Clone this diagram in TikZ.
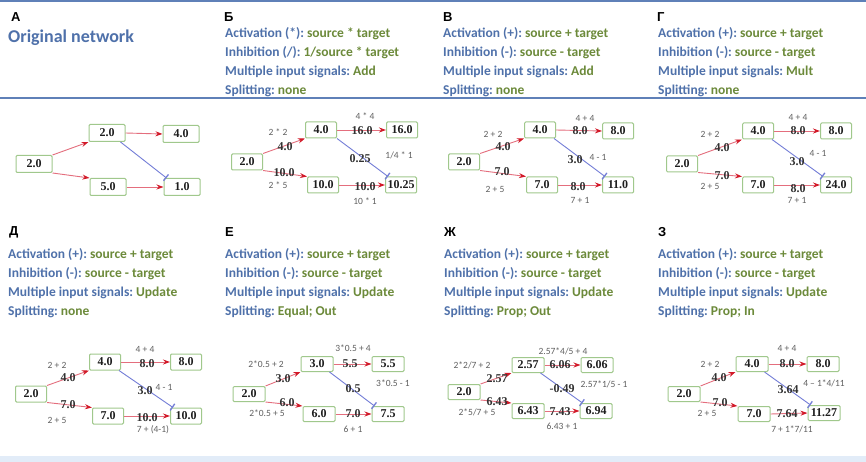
\documentclass[tikz,border=0pt]{standalone}
\usepackage{fontspec}
\setmainfont{Liberation Serif}
\newfontfamily\hfont{Carlito}
\newfontfamily\lfont{Liberation Sans}
\usetikzlibrary{arrows.meta}
\frenchspacing
\definecolor{hblue}{RGB}{79,113,170}
\definecolor{hgreen}{RGB}{108,138,58}
\definecolor{sepblue}{RGB}{95,128,184}
\definecolor{bandblue}{RGB}{226,236,248}
\definecolor{boxgreen}{RGB}{160,200,140}
\definecolor{nodetext}{RGB}{30,30,30}
\definecolor{valtext}{RGB}{50,50,50}
\definecolor{frmgray}{RGB}{95,95,95}
\definecolor{actred}{RGB}{228,110,125}
\definecolor{arrred}{RGB}{210,25,40}
\definecolor{inhblue}{RGB}{115,125,215}
\newcommand\hblock[9]{%
  \node[hd] (#1h1) at (#2,#3) {\color{hblue}Activation (#4):\ \color{hgreen}#5};
  \node[hd] (#1h2) at (#2,#3+19) {\color{hblue}Inhibition (#6):\ \color{hgreen}#7};
  \node[hd] (#1h3) at (#2,#3+38) {\color{hblue}Multiple input signals:\ \color{hgreen}#8};
  \node[hd] (#1h4) at (#2,#3+57) {\color{hblue}Splitting:\ \color{hgreen}#9};
}
\begin{document}
\begin{tikzpicture}[x=1pt,y=-1pt,
  box/.style={draw=boxgreen,line width=1pt,fill=white,rounded corners=1.2pt,minimum width=31pt,minimum height=16pt,inner sep=1pt,font=\fontsize{12}{12}\selectfont\bfseries,text=nodetext},
  boxa/.style={box,minimum width=36pt,minimum height=17pt},
  boxb/.style={box,minimum width=32pt,minimum height=15pt},
  act/.style={draw=actred,line width=0.9pt,-{Stealth[length=7pt,width=5pt,color=arrred]}},
  inh/.style={draw=inhblue,line width=0.9pt,-{Bar[width=8pt,line width=1.3pt]}},
  val/.style={font=\fontsize{12}{12}\selectfont\bfseries,text=valtext,inner sep=0pt},
  frm/.style={font=\hfont\fontsize{9.5}{10}\selectfont,text=frmgray,inner sep=0pt},
  hd/.style={anchor=west,inner sep=0pt,font=\hfont\bfseries\fontsize{13.5}{15}\selectfont},
  lettr/.style={anchor=west,inner sep=0pt,font=\lfont\bfseries\fontsize{13}{13}\selectfont},
]
\useasboundingbox (0,0) rectangle (866,462);
\fill[white] (0,0) rectangle (866,462);
\fill[bandblue] (0,456) rectangle (866,462);
\draw[sepblue,line width=2pt] (0,1) -- (866,1);
\draw[sepblue,line width=2pt] (0,98) -- (866,98);

% ---------- headers ----------
\node[lettr] (LA) at (11,17) {А};
\node[anchor=west,inner sep=0pt,font=\hfont\bfseries\fontsize{18}{18}\selectfont,text=hblue] (title) at (8,38) {Original network};
\node[lettr] (LB) at (224,17) {Б};
\hblock{B}{225}{34}{*}{source * target}{/}{1/source * target}{Add}{none}
\node[lettr] (LV) at (443,17) {В};
\hblock{V}{443}{34}{+}{source + target}{-}{source - target}{Add}{none}
\node[lettr] (LG) at (657,17) {Г};
\hblock{G}{658}{34}{+}{source + target}{-}{source - target}{Mult}{none}
\node[lettr] (LD) at (9,232) {Д};
\hblock{D}{8}{255}{+}{source + target}{-}{source - target}{Update}{none}
\node[lettr] (LE) at (225,232) {Е};
\hblock{E}{225}{255}{+}{source + target}{-}{source - target}{Update}{Equal; Out}
\node[lettr] (LZh) at (444,232) {Ж};
\hblock{Z}{444}{255}{+}{source + target}{-}{source - target}{Update}{Prop; Out}
\node[lettr] (LZ) at (658,232) {З};
\hblock{W}{658}{255}{+}{source + target}{-}{source - target}{Update}{Prop; In}

% ---------- A ----------
\node[boxa] (As) at (34,164) {2.0};
\node[boxa] (Aa) at (107,133) {2.0};
\node[boxa] (Ab) at (181,134) {4.0};
\node[boxa] (Ac) at (108,187) {5.0};
\node[boxa] (Ad) at (182,187) {1.0};
\draw[act] (As.north east) -- (Aa.south west);
\draw[act] (As.south east) -- (Ac.north west);
\draw[act] (Aa.east) -- (Ab.west);
\draw[act] (Ac.east) -- (Ad.west);
\draw[inh] ([xshift=-5pt]Aa.south east) -- ([xshift=3pt]Ad.north west);

% ---------- B ----------
\node[box] (Bs) at (247,162) {2.0};
\node[box] (Ba) at (321,130) {4.0};
\node[box] (Bb) at (402,130) {16.0};
\node[box] (Bc) at (323,185) {10.0};
\node[box] (Bd) at (401,185) {10.25};
\draw[act] (Bs.north east) -- (Ba.south west);
\draw[act] (Bs.south east) -- (Bc.north west);
\draw[act] (Ba.east) -- (Bb.west);
\draw[act] (Bc.east) -- (Bd.west);
\draw[inh] (Ba.south east) -- ([xshift=3pt]Bd.north west);
\node[val] (Bv1) at (285,147) {4.0};
\node[val] (Bv2) at (362,131) {16.0};
\node[val] (Bv3) at (360,159) {0.25};
\node[val] (Bv4) at (284,173) {10.0};
\node[val] (Bv5) at (365,187) {10.0};
\node[frm] (Bf1) at (278,132) {2 * 2};
\node[frm] (Bf2) at (365,116) {4 * 4};
\node[frm] (Bf3) at (399,155) {1/4 * 1};
\node[frm] (Bf4) at (278,185) {2 * 5};
\node[frm] (Bf5) at (365,201) {10 * 1};

% ---------- V ----------
\node[box] (Vs) at (464,162) {2.0};
\node[box] (Va) at (540,130) {4.0};
\node[box] (Vb) at (618,131) {8.0};
\node[box] (Vc) at (542,185) {7.0};
\node[box] (Vd) at (618,185) {11.0};
\draw[act] (Vs.north east) -- (Va.south west);
\draw[act] (Vs.south east) -- (Vc.north west);
\draw[act] (Va.east) -- (Vb.west);
\draw[act] (Vc.east) -- (Vd.west);
\draw[inh] ([xshift=-2pt]Va.south east) -- ([xshift=3pt]Vd.north west);
\node[val] (Vv1) at (503,147) {4.0};
\node[val] (Vv2) at (580,131) {8.0};
\node[val] (Vv3) at (575,160) {3.0};
\node[val] (Vv4) at (502,172) {7.0};
\node[val] (Vv5) at (578,187) {8.0};
\node[frm] (Vf1) at (493,134) {2 + 2};
\node[frm] (Vf2) at (585,118) {4 + 4};
\node[frm] (Vf3) at (598,157) {4 - 1};
\node[frm] (Vf4) at (495,189) {2 + 5};
\node[frm] (Vf5) at (580,200) {7 + 1};

% ---------- G ----------
\node[box] (Gs) at (682,164) {2.0};
\node[box] (Ga) at (758,131) {4.0};
\node[box] (Gb) at (836,131) {8.0};
\node[box] (Gc) at (758,185) {7.0};
\node[box] (Gd) at (836,185) {24.0};
\draw[act] (Gs.north east) -- (Ga.south west);
\draw[act] (Gs.south east) -- (Gc.north west);
\draw[act] (Ga.east) -- (Gb.west);
\draw[act] (Gc.east) -- (Gd.west);
\draw[inh] ([xshift=-2pt]Ga.south east) -- ([xshift=3pt]Gd.north west);
\node[val] (Gv1) at (722,148) {4.0};
\node[val] (Gv2) at (798,131) {8.0};
\node[val] (Gv3) at (797,162) {3.0};
\node[val] (Gv4) at (722,176) {7.0};
\node[val] (Gv5) at (798,189) {8.0};
\node[frm] (Gf1) at (710,134) {2 + 2};
\node[frm] (Gf2) at (798,117) {4 + 4};
\node[frm] (Gf3) at (818,153) {4 - 1};
\node[frm] (Gf4) at (710,186) {2 + 5};
\node[frm] (Gf5) at (797,200) {7 + 1};

% ---------- D ----------
\node[box] (Ds) at (31,394) {2.0};
\node[box] (Da) at (105,362) {4.0};
\node[box] (Db) at (186,362) {8.0};
\node[box] (Dc) at (108,416) {7.0};
\node[box] (Dd) at (186,416) {10.0};
\draw[act] (Ds.north east) -- (Da.south west);
\draw[act] (Ds.south east) -- (Dc.north west);
\draw[act] (Da.east) -- (Db.west);
\draw[act] (Dc.east) -- (Dd.west);
\draw[inh] ([xshift=-2pt]Da.south east) -- ([xshift=3pt]Dd.north west);
\node[val] (Dv1) at (68,378) {4.0};
\node[val] (Dv2) at (147,364) {8.0};
\node[val] (Dv3) at (145,391) {3.0};
\node[val] (Dv4) at (68,405) {7.0};
\node[val] (Dv5) at (147,418) {10.0};
\node[frm] (Df1) at (57,365) {2 + 2};
\node[frm] (Df2) at (145,349) {4 + 4};
\node[frm] (Df3) at (164,387) {4 - 1};
\node[frm] (Df4) at (57,420) {2 + 5};
\node[frm] (Df5) at (153,430) {7 + (4-1)};

% ---------- E ----------
\node[boxb] (Es) at (249,394) {2.0};
\node[boxb] (Ea) at (317,364) {3.0};
\node[boxb] (Eb) at (388,364) {5.5};
\node[boxb] (Ec) at (319,414) {6.0};
\node[boxb] (Ed) at (388,414) {7.5};
\draw[act] (Es.north east) -- (Ea.south west);
\draw[act] (Es.south east) -- (Ec.north west);
\draw[act] (Ea.east) -- (Eb.west);
\draw[act] (Ec.east) -- (Ed.west);
\draw[inh] ([xshift=-4pt]Ea.south east) -- ([xshift=3pt]Ed.north west);
\node[val] (Ev1) at (283,379) {3.0};
\node[val] (Ev2) at (350,364) {5.5};
\node[val] (Ev3) at (353,389) {0.5};
\node[val] (Ev4) at (287,403) {6.0};
\node[val] (Ev5) at (353,414) {7.0};
\node[frm] (Ef1) at (266,364) {2*0.5 + 2};
\node[frm] (Ef2) at (353,348) {3*0.5 + 4};
\node[frm] (Ef3) at (393,383) {3*0.5 - 1};
\node[frm] (Ef4) at (267,413) {2*0.5 + 5};
\node[frm] (Ef5) at (353,429) {6 + 1};

% ---------- Zh ----------
\node[boxb] (Zs) at (464,392) {2.0};
\node[boxb] (Za) at (528,365) {2.57};
\node[boxb] (Zb) at (597,365) {6.06};
\node[boxb] (Zc) at (528,411) {6.43};
\node[boxb] (Zd) at (596,411) {6.94};
\draw[act] (Zs.north east) -- (Za.south west);
\draw[act] (Zs.south east) -- (Zc.north west);
\draw[act] (Za.east) -- (Zb.west);
\draw[act] (Zc.east) -- (Zd.west);
\draw[inh] ([xshift=-4pt]Za.south east) -- ([xshift=3pt]Zd.north west);
\node[val] (Zv1) at (497,379) {2.57};
\node[val] (Zv2) at (560,365) {6.06};
\node[val] (Zv3) at (562,389) {-0.49};
\node[val] (Zv4) at (497,402) {6.43};
\node[val] (Zv5) at (560,412) {7.43};
\node[frm] (Zf1) at (472,365) {2*2/7 + 2};
\node[frm] (Zf2) at (563,351) {2.57*4/5 + 4};
\node[frm] (Zf3) at (604,384) {2.57*1/5 - 1};
\node[frm] (Zf4) at (477,412) {2*5/7 + 5};
\node[frm] (Zf5) at (562,426) {6.43 + 1};

% ---------- Z ----------
\node[boxb] (Ws) at (684,394) {2.0};
\node[boxb] (Wa) at (752,364) {4.0};
\node[boxb] (Wb) at (823,364) {8.0};
\node[boxb] (Wc) at (754,414) {7.0};
\node[boxb] (Wd) at (824,413) {11.27};
\draw[act] (Ws.north east) -- (Wa.south west);
\draw[act] (Ws.south east) -- (Wc.north west);
\draw[act] (Wa.east) -- (Wb.west);
\draw[act] (Wc.east) -- (Wd.west);
\draw[inh] ([xshift=-4pt]Wa.south east) -- ([xshift=3pt]Wd.north west);
\node[val] (Wv1) at (719,378) {4.0};
\node[val] (Wv2) at (787,364) {8.0};
\node[val] (Wv3) at (788,390) {3.64};
\node[val] (Wv4) at (720,403) {7.0};
\node[val] (Wv5) at (787,414) {7.64};
\node[frm] (Wf1) at (710,364) {2 + 2};
\node[frm] (Wf2) at (787,348) {4 + 4};
\node[frm] (Wf3) at (824,383) {4 – 1*4/11};
\node[frm] (Wf4) at (707,413) {2 + 5};
\node[frm] (Wf5) at (792,429) {7 + 1*7/11};
\end{tikzpicture}
\end{document}
